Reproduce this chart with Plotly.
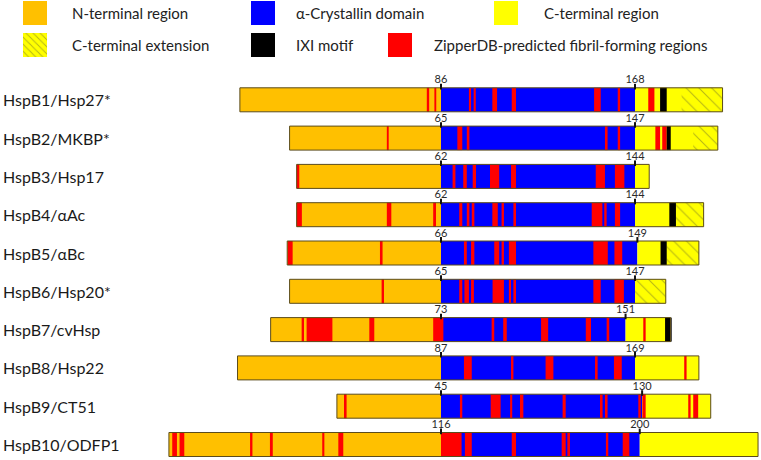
import plotly.graph_objects as go

# ---------------- data (residue numbers) ----------------
proteins = ["HspB1/Hsp27*", "HspB2/MKBP*", "HspB3/Hsp17", "HspB4/αAc", "HspB5/αBc",
            "HspB6/Hsp20*", "HspB7/cvHsp", "HspB8/Hsp22", "HspB9/CT51", "HspB10/ODFP1"]
lengths = [205, 182, 150, 173, 175, 160, 170, 196, 159, 250]
acd_start = [86, 65, 62, 62, 66, 65, 73, 87, 45, 116]
acd_end = [168, 147, 144, 144, 149, 147, 151, 169, 130, 200]
ext_start = [187.7, 171.6, None, 161.3, 161.4, 147, None, None, None, None]
ixi_start = [178.6, 160.4, None, 158.5, 158.8, None, 167.7, None, None, None]
ixi_end = [181.4, 162.1, None, 161.3, 161.4, None, 170.5, None, None, None]
red_regions = [
    [(80, 81), (83.2, 84), (97.8, 98.7), (99.8, 100.7), (107.7, 109.7), (115.9, 117.7),
     (150.7, 153.5), (160.7, 161.7), (173.6, 176.2)],
    [(42.1, 42.9), (71.9, 74), (75.9, 77), (134.3, 135.4), (139.7, 140.7), (155.6, 157.6),
     (158.5, 160.4)],
    [(1, 2.1), (66.9, 68.1), (71.4, 72.9), (75.4, 76.8), (82.7, 86.6), (91.6, 93.7),
     (127.4, 131.3), (135.5, 139.5)],
    [(1, 3.2), (39.1, 41), (58.7, 59.9), (69.7, 71), (72.9, 74), (75, 76.1), (83.7, 86),
     (87.6, 88.6), (92.6, 93.7), (125.7, 130.2), (131, 132), (135.5, 137.7)],
    [(1.2, 3.3), (40.2, 41.3), (75.7, 76.9), (78.7, 80.1), (88.5, 90.6), (91.6, 92.6),
     (94.7, 97.7), (130.4, 136.5), (139.3, 142.6)],
    [(39.9, 40.9), (72.7, 74), (74.9, 76.8), (77.7, 78.9), (86.8, 91.6), (93.7, 94.6),
     (95.6, 96.7), (129.4, 132.5), (138.3, 142.3)],
    [(14.1, 15.1), (16.2, 27.1), (42.7, 44.8), (69.7, 74), (94.4, 95.5), (99.3, 100.8),
     (115.3, 118.3), (134.2, 136.4), (143, 144.1), (158.5, 159.5)],
    [(96.7, 100), (116.6, 117.6), (131.2, 134.5), (152.1, 153.2), (160.1, 163.4),
     (189.8, 190.8)],
    [(4, 5.1), (53, 54), (66, 70.2), (74.2, 75.1), (78.4, 79.8), (96.4, 97.7), (112.2, 113.3),
     (114.3, 115.4), (128.4, 129.4), (130.1, 131.5), (149.5, 150.5), (151.6, 153.7)],
    [(2.4, 4.4), (5.5, 7.5), (35.3, 36.3), (43.7, 44.9), (65.8, 66.7), (72.6, 74.7),
     (116, 124.7), (126.1, 129), (145.9, 147.7), (167, 168.7), (169.4, 170.5),
     (185.7, 186.7), (192.8, 195.6)],
]
legend_labels = ["N-terminal region", "α-Crystallin domain", "C-terminal region",
                 "C-terminal extension", "IXI motif", "ZipperDB-predicted fibril-forming regions"]

# ---------------- styling ----------------
C_N = "#FFC000"
C_ACD = "#0000FF"
C_C = "#FFFF00"
C_RED = "#FF0000"
C_BLK = "#000000"
C_OUT = "#5b4c1c"
HATCH = dict(shape="\\", fgcolor="#6f6f2a", bgcolor=C_C, size=9, solidity=0.12, fillmode="overlay")
FONT = "Lato, 'Open Sans', sans-serif"

W, H = 761, 460
PX0, PXU = 441.0, 2.366      # pixel of ACD start, pixels per residue
PY0, PYU = 99.8, 38.3        # pixel of first row centre, pixels per row


def xd(px):
    return (px - PX0) / PXU


def yd(py):
    return (py - PY0) / PYU


BW = 24 / PYU
rows = list(range(len(proteins)))

fig = go.Figure()


def add_bar(starts, ends, ys, color, pattern=None, line=None, width=BW):
    marker = dict(color=color, line=line or dict(width=0))
    if pattern:
        marker["pattern"] = pattern
    fig.add_trace(go.Bar(orientation="h", y=ys, x=[e - s for s, e in zip(starts, ends)],
                         base=starts, width=width, marker=marker,
                         showlegend=False, hoverinfo="skip"))


# N-terminal regions
add_bar([1 - a for a in acd_start], [0] * len(rows), rows, C_N)
# ACD
add_bar([0] * len(rows), [e - a for e, a in zip(acd_end, acd_start)], rows, C_ACD)
# C-terminal regions
add_bar([e - a for e, a in zip(acd_end, acd_start)], [l - a for l, a in zip(lengths, acd_start)], rows, C_C)
# C-terminal extensions
ex_s, ex_e, ex_y = [], [], []
for i in rows:
    if ext_start[i] is not None:
        ex_s.append(ext_start[i] - acd_start[i])
        ex_e.append(lengths[i] - acd_start[i])
        ex_y.append(i)
add_bar(ex_s, ex_e, ex_y, C_C, pattern=HATCH)
# ZipperDB regions
r_s, r_e, r_y = [], [], []
for i in rows:
    for s, e in red_regions[i]:
        r_s.append(s - acd_start[i])
        r_e.append(e - acd_start[i])
        r_y.append(i)
add_bar(r_s, r_e, r_y, C_RED)
# IXI motifs
k_s, k_e, k_y = [], [], []
for i in rows:
    if ixi_start[i] is not None:
        k_s.append(ixi_start[i] - acd_start[i])
        k_e.append(ixi_end[i] - acd_start[i])
        k_y.append(i)
add_bar(k_s, k_e, k_y, C_BLK)
# outlines
add_bar([1 - a for a in acd_start], [l - a for l, a in zip(lengths, acd_start)], rows,
        "rgba(0,0,0,0)", line=dict(color=C_OUT, width=1))

# boundary ticks and numbers
tx, ty, tt = [], [], []
for i in rows:
    tx += [0, acd_end[i] - acd_start[i]]
    ty += [i, i]
    tt += [str(acd_start[i]), str(acd_end[i])]
fig.add_trace(go.Scatter(x=tx, y=[y - BW / 2 - 0.03 for y in ty], mode="markers",
                         marker=dict(symbol="line-ns", size=4, line=dict(width=2, color="#111")),
                         showlegend=False, hoverinfo="skip"))
fig.add_trace(go.Scatter(x=tx, y=[y - 0.50 for y in ty], mode="text", text=tt,
                         textfont=dict(family=FONT, size=11, color="#2a2a2a"),
                         showlegend=False, hoverinfo="skip"))

# protein labels
for i in rows:
    fig.add_annotation(x=xd(1), y=i, text=proteins[i], xref="x", yref="y", xanchor="left",
                       yanchor="middle", showarrow=False,
                       font=dict(family=FONT, size=16, color="#1a1a1a"))

# legend swatches
sw = 24 / PXU
sh = 24 / PYU
leg_rows = [yd(13), yd(13), yd(13), yd(45), yd(45), yd(45)]
leg_swx = [xd(23), xd(251), xd(494), xd(23), xd(251), xd(388)]
leg_txx = [xd(70), xd(294), xd(542), xd(70), xd(294), xd(432)]
leg_cols = [C_N, C_ACD, C_C, C_C, C_BLK, C_RED]
for k in range(6):
    pat = dict(shape="\\", fgcolor="#6f6f2a", bgcolor=C_C, size=5, solidity=0.2,
               fillmode="overlay") if k == 3 else None
    add_bar([leg_swx[k]], [leg_swx[k] + sw], [leg_rows[k]], leg_cols[k], pattern=pat, width=sh)
    fig.add_annotation(x=leg_txx[k], y=leg_rows[k], text=legend_labels[k], xref="x", yref="y",
                       xanchor="left", yanchor="middle", showarrow=False,
                       font=dict(family=FONT, size=15, color="#222222"))

fig.update_layout(
    width=W, height=H, margin=dict(l=0, r=0, t=0, b=0),
    paper_bgcolor="white", plot_bgcolor="white",
    barmode="overlay", showlegend=False, hovermode=False,
    xaxis=dict(range=[xd(0), xd(W)], visible=False, fixedrange=True),
    yaxis=dict(range=[yd(H), yd(0)], visible=False, fixedrange=True),
)

# remove the browser's default 8px page margin so the figure fills the window
fig.write_html("out.html", config={"displayModeBar": False, "staticPlot": True},
               post_script="document.body.style.margin='0px';")
